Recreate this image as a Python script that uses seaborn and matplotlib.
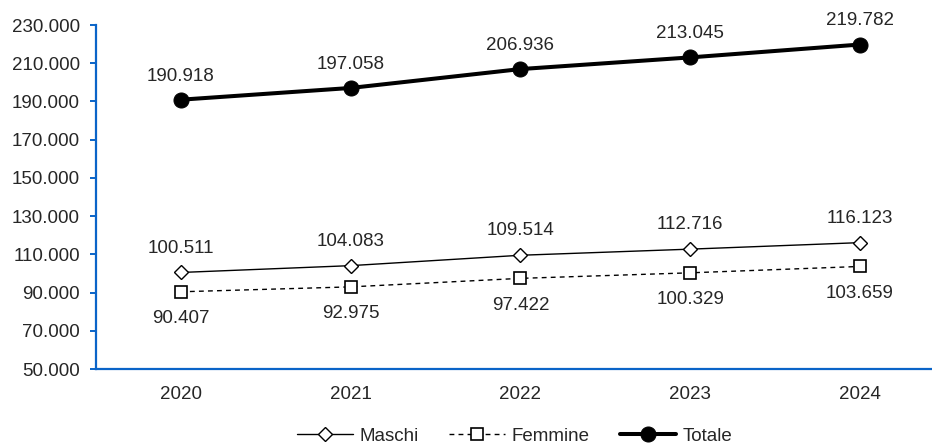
import matplotlib
matplotlib.use("Agg")
import matplotlib.pyplot as plt
import seaborn as sns
import pandas as pd
from matplotlib.ticker import FuncFormatter

years = ["2020", "2021", "2022", "2023", "2024"]
maschi = [100511, 104083, 109514, 112716, 116123]
femmine = [90407, 92975, 97422, 100329, 103659]
totale = [190918, 197058, 206936, 213045, 219782]

sns.set_style("white")
plt.rcParams['font.family'] = ['Liberation Sans', 'DejaVu Sans']

FS = 13.5
fig = plt.figure(figsize=(9.32, 4.45), dpi=100)
ax = fig.add_axes([96/932, 1-369/445, 1-96/932, (369-25)/445])

idx = list(range(len(years)))
df = pd.DataFrame({"x": idx, "Maschi": maschi, "Femmine": femmine, "Totale": totale})

def fmt(v):
    return f"{v:,.0f}".replace(",", ".")

sns.lineplot(data=df, x="x", y="Maschi", ax=ax, color="black", lw=1.0,
             marker="D", markersize=7, markerfacecolor="white",
             markeredgecolor="black", markeredgewidth=1.0, label="Maschi")
sns.lineplot(data=df, x="x", y="Femmine", ax=ax, color="black", lw=1.0,
             linestyle=(0, (3.5, 3)), marker="s", markersize=9,
             markerfacecolor="white", markeredgecolor="black",
             markeredgewidth=1.2, label="Femmine")
sns.lineplot(data=df, x="x", y="Totale", ax=ax, color="black", lw=2.9,
             marker="o", markersize=10.8, markerfacecolor="black",
             markeredgecolor="black", label="Totale")

for i in idx:
    ax.annotate(fmt(totale[i]), (i, totale[i]), xytext=(0, 17),
                textcoords="offset points", ha="center", va="center", fontsize=FS)
    ax.annotate(fmt(maschi[i]), (i, maschi[i]), xytext=(0, 17.5),
                textcoords="offset points", ha="center", va="center", fontsize=FS)
    ax.annotate(fmt(femmine[i]), (i, femmine[i]), xytext=(0, -19.5),
                textcoords="offset points", ha="center", va="center", fontsize=FS)

ax.set_xlim(-0.5, (932-181)/169.75)
ax.set_ylim(50000, 230000)
ax.set_yticks(range(50000, 230001, 20000))
ax.yaxis.set_major_formatter(FuncFormatter(lambda v, p: fmt(v)))
ax.set_xticks(idx)
ax.set_xticklabels(years)
ax.set_xlabel("")
ax.set_ylabel("")

blue = "#0A64C8"
for s in ["top", "right"]:
    ax.spines[s].set_visible(False)
for s in ["left", "bottom"]:
    ax.spines[s].set_color(blue)
    ax.spines[s].set_linewidth(1.6)
ax.tick_params(axis="y", which="both", left=True, length=4, width=1.4,
               color=blue, labelsize=FS, pad=7.5)
ax.tick_params(axis="x", bottom=False, labelsize=FS, pad=9)

ax.get_legend().remove()
handles, labels = ax.get_legend_handles_labels()
fig.legend(handles, labels, loc="center", bbox_to_anchor=(0.552, 1-436/445),
           ncol=3, frameon=False, fontsize=FS, handlelength=3.0,
           columnspacing=1.6, handletextpad=0.35, borderpad=0)

fig.savefig("out.png", dpi=100)
